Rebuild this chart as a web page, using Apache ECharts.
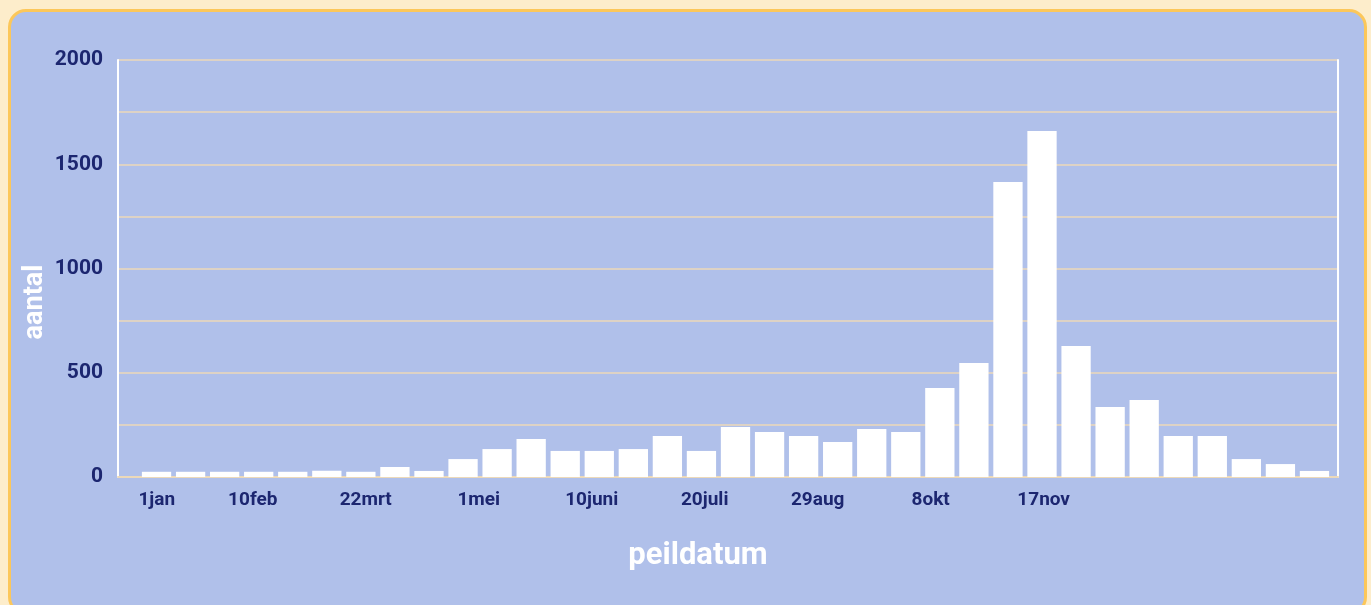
<!DOCTYPE html>
<html>
<head>
<meta charset="utf-8">
<script src="https://cdn.jsdelivr.net/npm/echarts@6/dist/echarts.min.js"></script>
<style>
  html, body { margin: 0; padding: 0; background: #fdedcb; }
  #panel {
    position: absolute; left: 8px; top: 9px; width: 1353px; height: 600px;
    background: #b0c0ea; border: 3px solid #fcc75a; border-radius: 18px;
  }
  #chart { position: absolute; left: 0; top: 0; width: 1371px; height: 605px; }
</style>
</head>
<body>
<div id="panel"></div>
<div id="chart"></div>
<script>
// weekly counts
const weeks = [];
for (let i = 1; i <= 35; i++) weeks.push("w" + i);
const counts = [25, 25, 25, 25, 25, 30, 25, 48, 29, 86, 134, 182, 125, 125, 134, 197, 125,
  240, 216, 197, 168, 230, 216, 427, 547, 1415, 1659, 628, 336, 369, 197, 197, 86, 62, 29];

// date labels on the x axis (day of year)
const dateDays = [1, 41, 81, 121, 161, 201, 241, 281, 321];
const dateLabels = ["1jan", "10feb", "22mrt", "1mei", "10juni", "20juli", "29aug", "8okt", "17nov"];

const navy = "#1c2670";
const cream = "#ecd9b9";
const font = "Roboto";

const myChart = echarts.init(document.getElementById("chart"));
myChart.setOption({
  animation: false,
  grid: [
    { left: 139.5, right: 39.5, top: 60, bottom: 128 },
    { left: 118, right: 33, top: 60, bottom: 128 }
  ],
  xAxis: [
    {
      type: "category", gridIndex: 0, data: weeks,
      axisLine: { show: false }, axisTick: { show: false }, axisLabel: { show: false }
    },
    {
      type: "value", gridIndex: 1, min: -6.7, max: 425.2,
      splitLine: { show: false },
      axisTick: { show: false },
      axisLine: { onZero: false, lineStyle: { color: cream, width: 2 } },
      axisLabel: {
        customValues: dateDays,
        margin: 14,
        color: navy, fontFamily: font, fontWeight: "bold", fontSize: 19,
        formatter: (v) => {
          const i = dateDays.indexOf(v);
          if (i < 0) return "";
          return i === 0 ? "{first|" + dateLabels[i] + "}" : dateLabels[i];
        },
        rich: {
          first: { padding: [0, 0, 0, 34], color: navy, fontFamily: font, fontWeight: "bold", fontSize: 19 }
        }
      }
    }
  ],
  yAxis: [
    { type: "value", gridIndex: 0, min: 0, max: 2000, show: false },
    {
      type: "value", gridIndex: 1, min: 0, max: 2000, interval: 250,
      axisLine: { show: true, onZero: false, lineStyle: { color: "#ffffff", width: 2 } },
      axisTick: { show: false },
      splitLine: { lineStyle: { color: cream, width: 1.5 } },
      axisLabel: {
        margin: 15,
        color: navy, fontFamily: font, fontWeight: "bold", fontSize: 21,
        formatter: (v) => (v % 500 === 0 ? String(v) : "")
      }
    },
    {
      type: "value", gridIndex: 1, min: 0, max: 2000, position: "right",
      axisLine: { show: true, onZero: false, lineStyle: { color: "#ffffff", width: 2 } },
      axisTick: { show: false }, axisLabel: { show: false }, splitLine: { show: false }
    }
  ],
  graphic: [
    {
      type: "text", x: 698, y: 556,
      style: {
        text: "peildatum", fill: "#ffffff", font: "bold 31px Roboto",
        textAlign: "center", textVerticalAlign: "middle"
      }
    },
    {
      type: "text", x: 35, y: 302, rotation: Math.PI / 2,
      style: {
        text: "aantal", fill: "#ffffff", font: "bold 27px Roboto",
        textAlign: "center", textVerticalAlign: "middle"
      }
    }
  ],
  series: [
    {
      type: "bar", xAxisIndex: 0, yAxisIndex: 0,
      data: counts,
      barCategoryGap: "14%",
      itemStyle: { color: "#ffffff" }
    }
  ]
});
</script>
</body>
</html>
